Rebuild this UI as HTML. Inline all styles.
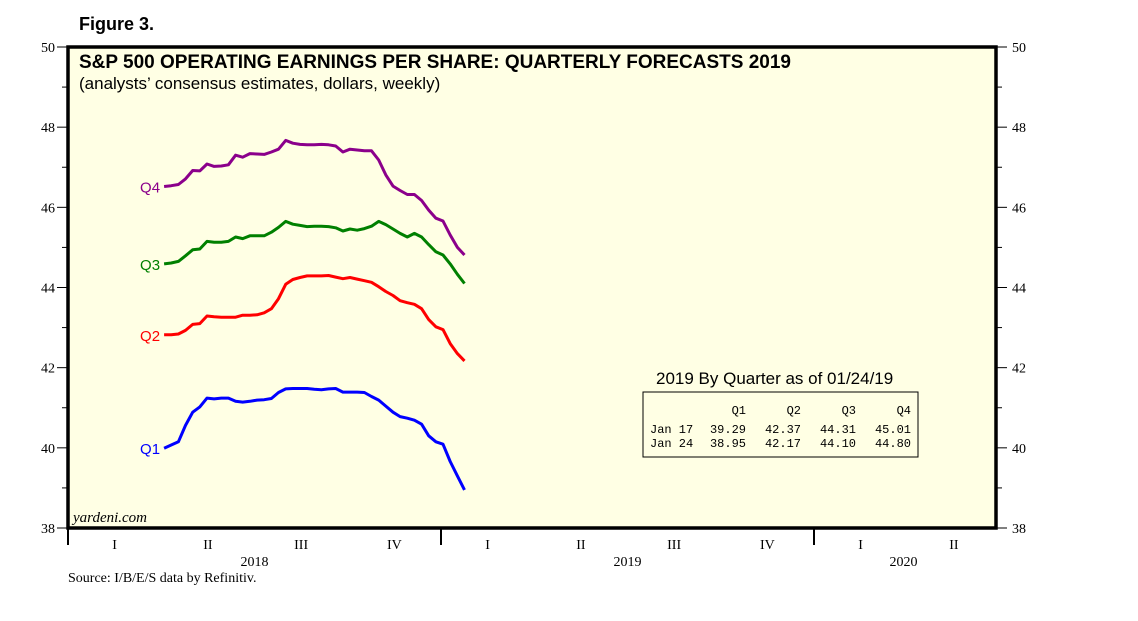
<!DOCTYPE html>
<html><head><meta charset="utf-8"><style>
body{margin:0;background:#fff;}
svg{display:block;font-family:"Liberation Sans",sans-serif;}
</style></head><body>
<svg id="chart" width="1138" height="621" viewBox="0 0 1138 621">
<rect x="68" y="47" width="928" height="481" fill="#ffffe4"/>
<g id="axes"></g>
<g id="series"></g>
<rect x="68" y="47" width="928" height="481" fill="none" stroke="#000" stroke-width="3.5"/>
<text x="79" y="30" font-size="18" font-weight="bold">Figure 3.</text>
<text x="79" y="68" font-size="19" font-weight="bold">S&amp;P 500 OPERATING EARNINGS PER SHARE: QUARTERLY FORECASTS 2019</text>
<text x="79" y="89" font-size="17">(analysts’ consensus estimates, dollars, weekly)</text>
<text x="73" y="522" font-size="15" font-style="italic" font-family="Liberation Serif, serif">yardeni.com</text>
<text x="68" y="582" font-size="14" font-family="Liberation Serif, serif">Source: I/B/E/S data by Refinitiv.</text>
<g>
<text x="656" y="384" font-size="17">2019 By Quarter as of 01/24/19</text>
<rect x="643" y="392" width="275" height="65" fill="none" stroke="#000" stroke-width="1"/>
<g font-family="Liberation Mono, monospace" font-size="12" fill="#000">
<text x="746" y="414" text-anchor="end">Q1</text><text x="801" y="414" text-anchor="end">Q2</text><text x="856" y="414" text-anchor="end">Q3</text><text x="911" y="414" text-anchor="end">Q4</text>
<text x="650" y="433">Jan 17</text><text x="746" y="433" text-anchor="end">39.29</text><text x="801" y="433" text-anchor="end">42.37</text><text x="856" y="433" text-anchor="end">44.31</text><text x="911" y="433" text-anchor="end">45.01</text>
<text x="650" y="447">Jan 24</text><text x="746" y="447" text-anchor="end">38.95</text><text x="801" y="447" text-anchor="end">42.17</text><text x="856" y="447" text-anchor="end">44.10</text><text x="911" y="447" text-anchor="end">44.80</text>
</g></g>
</svg>
<script>
const yTicks=[38,40,42,44,46,48,50];
const years=["2018","2019","2020"];
const quarters=["I","II","III","IV","I","II","III","IV","I","II"];
const seriesNames=["Q1","Q2","Q3","Q4"];
const seriesColors=["#0000ff","#ff0000","#008000","#8b008b"];
const startDay=94;
const q1=[39.99,40.07,40.15,40.56,40.89,41.02,41.24,41.22,41.24,41.24,41.16,41.14,41.16,41.19,41.20,41.23,41.38,41.47,41.48,41.48,41.48,41.46,41.45,41.47,41.48,41.39,41.39,41.39,41.38,41.28,41.19,41.04,40.89,40.78,40.74,40.69,40.59,40.30,40.15,40.09,39.66,39.30,38.95];
const q2=[42.82,42.82,42.84,42.93,43.08,43.10,43.29,43.27,43.26,43.26,43.26,43.31,43.31,43.32,43.37,43.47,43.72,44.08,44.20,44.25,44.29,44.29,44.29,44.30,44.26,44.22,44.25,44.21,44.17,44.13,44.02,43.90,43.80,43.67,43.62,43.58,43.47,43.20,43.02,42.95,42.60,42.35,42.17];
const q3=[44.59,44.61,44.65,44.79,44.94,44.96,45.15,45.13,45.13,45.15,45.26,45.22,45.29,45.29,45.29,45.38,45.50,45.65,45.58,45.55,45.52,45.53,45.53,45.52,45.49,45.41,45.46,45.43,45.47,45.53,45.65,45.57,45.46,45.35,45.26,45.35,45.26,45.07,44.89,44.81,44.59,44.33,44.10];
const q4=[46.52,46.54,46.57,46.71,46.92,46.91,47.08,47.02,47.03,47.06,47.30,47.25,47.34,47.33,47.32,47.38,47.45,47.67,47.60,47.57,47.56,47.56,47.57,47.56,47.53,47.38,47.45,47.43,47.41,47.41,47.18,46.81,46.53,46.42,46.32,46.32,46.17,45.93,45.73,45.66,45.31,45.00,44.81];
const allSeries=[q1,q2,q3,q4];

const X0=68,YEARW=373,YT=47,YB=528,YMIN=38,YMAX=50;
const NS="http://www.w3.org/2000/svg";
function y(v){return YB-(v-YMIN)/(YMAX-YMIN)*(YB-YT);}
function xDay(d){return X0+d/365*YEARW;}
function mk(tag,attrs,parent,txt){const e=document.createElementNS(NS,tag);for(const k in attrs)e.setAttribute(k,attrs[k]);if(txt!==undefined)e.textContent=txt;parent.appendChild(e);return e;}
const ax=document.getElementById('axes');
for(let v=YMIN;v<=YMAX;v++){
  const major=v%2===0, yy=y(v), len=major?11:6;
  let t=mk('line',{x1:X0-len,x2:X0,y1:yy,y2:yy,stroke:'#000','stroke-width':1},ax);
  
  
  t=mk('line',{x1:996,x2:996+len,y1:yy,y2:yy,stroke:'#000','stroke-width':1},ax);
  
  
}
yTicks.forEach(v=>{
  let l=mk('text',{x:55,y:y(v)+5,'text-anchor':'end','font-size':14,'font-family':'Liberation Serif, serif'},ax,v);
  
  
  l=mk('text',{x:1012,y:y(v)+5,'font-size':14,'font-family':'Liberation Serif, serif'},ax,v);
  
  
});
years.forEach((yr,i)=>{
  const x=X0+i*YEARW;
  let d=mk('line',{x1:x,x2:x,y1:YB,y2:YB+17,stroke:'#000','stroke-width':2},ax);
  
  
  let l=mk('text',{x:i<2?x+YEARW/2:x+YEARW*0.24,y:566,'text-anchor':'middle','font-size':14,'font-family':'Liberation Serif, serif'},ax,yr);
  
  
});
quarters.forEach((q,i)=>{
  const l=mk('text',{x:X0+(i+0.5)*YEARW/4,y:549,'text-anchor':'middle','font-size':14,'font-family':'Liberation Serif, serif'},ax,q);
  
  
});
const sg=document.getElementById('series');
allSeries.forEach((s,k)=>{
  const pts=s.map((v,i)=>xDay(startDay+7*i).toFixed(1)+','+y(v).toFixed(1)).join(' ');
  const p=mk('polyline',{points:pts,fill:'none',stroke:seriesColors[k],'stroke-width':3,'stroke-linejoin':'round'},sg);
  
  
  const l=mk('text',{x:xDay(startDay)-4,y:y(s[0])+6,'text-anchor':'end','font-size':15,fill:seriesColors[k]},sg,seriesNames[k]);
  
  
});
</script>
</body></html>
